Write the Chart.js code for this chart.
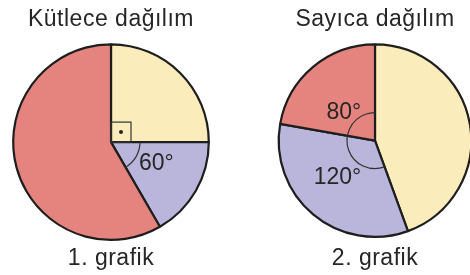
<!DOCTYPE html>
<html>
<head>
<meta charset="utf-8">
<script src="https://cdn.jsdelivr.net/npm/chart.js@4.4.1/dist/chart.umd.min.js"></script>
<style>
  html, body { margin: 0; padding: 0; background: #fff; overflow: hidden; }
  body { width: 470px; height: 275px; position: relative; }
  .box { position: absolute; top: 0; }
  #massBox { left: 0; }
  #countBox { left: 258px; }
</style>
</head>
<body>
<div class="box" id="massBox"><canvas id="massChart" width="222" height="275"></canvas></div>
<div class="box" id="countBox"><canvas id="countChart" width="234" height="275"></canvas></div>
<script>
// slices in degrees, clockwise from 12 o'clock
const parts = ["sarı", "mor", "kırmızı"];
const massAngles = [90, 60, 210];
const countAngles = [160, 120, 80];
const massLabels = [null, "60°", null];
const countLabels = [null, "120°", "80°"];
const colors = ["#fbecbc", "#bab5db", "#e5847f"];

const FONT = "'Liberation Sans', Arial, Helvetica, sans-serif";
const INK = "#262626";

// angle arcs, right-angle mark and degree labels on top of the slices
const angleMarks = {
  id: "angleMarks",
  beforeDraw(chart) {
    chart.ctx.letterSpacing = "0.5px";
  },
  afterDatasetsDraw(chart, args, opts) {
    const ctx = chart.ctx;
    const arcs = chart.getDatasetMeta(0).data;
    const cx = arcs[0].x, cy = arcs[0].y;
    ctx.save();
    ctx.letterSpacing = "0px";
    ctx.strokeStyle = "#333";
    ctx.lineWidth = 1.2;
    if (opts.arc) {
      ctx.beginPath();
      ctx.arc(cx, cy, opts.arc.r, arcs[opts.arc.from].startAngle, arcs[opts.arc.to].endAngle);
      ctx.stroke();
    }
    if (opts.square) {
      const s = opts.square;
      ctx.strokeRect(cx, cy - s, s, s);
      ctx.beginPath();
      ctx.arc(cx + s / 2, cy - s / 2, 2, 0, Math.PI * 2);
      ctx.fillStyle = INK;
      ctx.fill();
    }
    ctx.fillStyle = INK;
    ctx.font = "23px " + FONT;
    ctx.textAlign = "center";
    ctx.textBaseline = "middle";
    opts.labels.forEach((txt, i) => {
      if (!txt) return;
      const a = arcs[i];
      const p = opts.place[i];
      const ang = (a.startAngle + a.endAngle) / 2 + p.da * Math.PI / 180;
      ctx.fillText(txt, cx + Math.cos(ang) * p.r, cy + Math.sin(ang) * p.r);
    });
    ctx.restore();
  }
};

function makePie(id, values, labels, title, caption, bottomPad, marks) {
  new Chart(document.getElementById(id), {
    type: "pie",
    data: {
      labels: parts,
      datasets: [{
        data: values,
        backgroundColor: colors,
        borderColor: "#1e1e1e",
        borderWidth: 2.2
      }]
    },
    options: {
      responsive: false,
      animation: false,
      events: [],
      plugins: {
        legend: { display: false },
        tooltip: { enabled: false },
        title: {
          display: true,
          text: title,
          color: INK,
          font: { family: FONT, size: 23, weight: "normal", lineHeight: 1.2 },
          padding: { top: 5.9, bottom: 9.7 }
        },
        subtitle: {
          display: true,
          position: "bottom",
          text: caption,
          color: INK,
          font: { family: FONT, size: 23, weight: "normal", lineHeight: 1.2 },
          padding: { top: bottomPad, bottom: 2.1 }
        },
        angleMarks: Object.assign({ labels: labels }, marks)
      }
    },
    plugins: [angleMarks]
  });
}

makePie("massChart", massAngles, massLabels, "Kütlece dağılım", "1. grafik", 4.3, {
  arc: { r: 29, from: 1, to: 1 },
  square: 20,
  place: { 1: { r: 50, da: -5 } }
});

makePie("countChart", countAngles, countLabels, "Sayıca dağılım", "2. grafik", 7.3, {
  arc: { r: 28, from: 1, to: 2 },
  square: 0,
  place: { 1: { r: 53, da: 5 }, 2: { r: 42, da: -8 } }
});
</script>
</body>
</html>
